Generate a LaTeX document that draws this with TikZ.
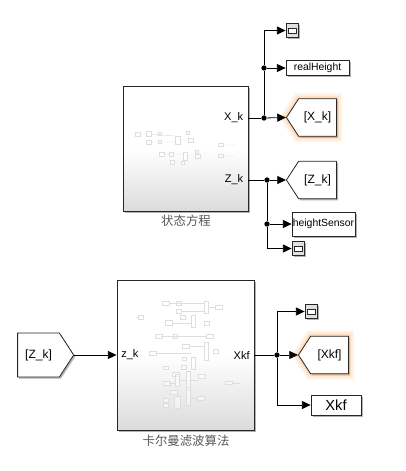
\documentclass[tikz,border=0pt]{standalone}
\usepackage{fontspec}
\setmainfont{Liberation Sans}
\newfontfamily\cjk{Noto Sans CJK SC}
\usetikzlibrary{arrows.meta,shadows,shapes.symbols}

\tikzset{
  wire/.style={-{Triangle[length=6.5pt,width=6pt]},line width=.6pt},
  bare/.style={line width=.6pt},
  junct/.style={circle,fill=black,inner sep=0pt,minimum size=4pt},
  softshadow/.style={drop shadow={shadow xshift=1.2pt,shadow yshift=-1.2pt,fill=black,opacity=.3}},
  subsys/.style={draw=black!85,line width=.7pt,top color=white,bottom color=black!14,middle color=white,softshadow,inner sep=0pt},
  outbox/.style={draw=black!85,fill=white,line width=.6pt,inner sep=0pt,softshadow},
  tagout/.style={signal,signal to=west,signal from=nowhere,signal pointer angle=114,draw=black!85,fill=white,line width=.6pt,inner sep=0pt,minimum width=37.5pt,minimum height=28pt,font=\fontsize{9}{9}\selectfont,softshadow},
  tagin/.style={tagout,signal to=east,minimum width=42pt,minimum height=33pt},
  glow/.style={preaction={draw=orange!60,line width=9pt,opacity=.1},preaction={draw=orange!60,line width=6.5pt,opacity=.14},preaction={draw=orange!60,line width=4pt,opacity=.18},preaction={draw=orange!60,line width=2pt,opacity=.2}},
  viewer/.style={outbox,fill=black!12,minimum width=9pt,minimum height=10pt},
  viewin/.style={draw=black!85,fill=white,line width=.4pt,inner sep=0pt,minimum width=6pt,minimum height=3.5pt},
  port/.style={font=\fontsize{8.3}{8.3}\selectfont,inner sep=0pt},
  caption/.style={font=\cjk\fontsize{9.3}{9.3}\selectfont,text=black!65,inner sep=0pt},
  ghost/.style={draw=black!13,line width=.35pt,fill=white,fill opacity=.5},
}

\begin{document}
\begin{tikzpicture}[x=0.75pt,y=-0.75pt]
\useasboundingbox[fill=white] (0,0) rectangle (406,471);

% first subsystem
\node[subsys,minimum width=93.75pt,minimum height=93.75pt] (plant) at (185.5,148.5) {};
\node[caption] (plantcap) at (186,221) {状态方程};
\node[port,anchor=east] (xk) at (243.5,118) {X\_k};
\node[port,anchor=east] (zk) at (243.5,180) {Z\_k};
\coordinate (xkout) at (plant.east |- xk);
\coordinate (zkout) at (plant.east |- zk);

\foreach \x/\y/\w/\h in {138/134/5/4,149/134/5/5,160/134/3/3,149/142/5/4,160/142/3/3,178/140/5/8,188/133/3/3,191/140/5/4,
  162/154/5/4,171/154/4/4,185/156/4/8,197/152/3/3,198/156/5/4,172/162/4/4,183/163/3/3,221/145/5/3,221/156/5/3}
  \draw[ghost] (\x-\w/2,\y-\h/2) rectangle (\x+\w/2,\y+\h/2);
\draw[ghost] (141,134)--(146,134) (152,134)--(175,136) (152,142)--(175,142) (181,140)--(188,140)
  (165,154)--(183,154) (187,156)--(195,156) (224,145)--(235,145) (224,156)--(235,156);

\node[viewer] (scopea) at (292,30.5) {};
\node[viewin] (scopeaw) at (scopea) {};
\node[outbox,minimum width=47.25pt,minimum height=11.25pt,font=\fontsize{7.8}{8}\selectfont] (realh) at (317.5,68) {realHeight};
\node[tagout,glow] (gotox) at (317.5,117.5) {[X\_k]};
\node[tagout] (gotoz) at (317.5,180) {[Z\_k]};
\node[outbox,minimum width=47.25pt,minimum height=18pt,font=\fontsize{7.8}{8}\selectfont] (hsensor) at (323.5,224) {heightSensor};
\node[viewer] (scopeb) at (298,248.5) {};
\node[viewin] (scopebw) at (scopeb) {};

\node[junct] (jxa) at (264,118) {};
\node[junct] (jxb) at (264,68) {};
\node[junct] (jza) at (267,180) {};
\node[junct] (jzb) at (267,224) {};

\draw[bare] (xkout)--(jxa);
\draw[wire] (jxa)--(gotox.west);
\draw[wire] (jxb)--(realh.west);
\draw[wire] (jxa)--(jxb)|-(scopea.west);
\draw[bare] (zkout)--(jza);
\draw[wire] (jza)--(gotoz.west);
\draw[wire] (jzb)--(hsensor.west);
\draw[wire] (jza)--(jzb)|-(scopeb.west);

% second subsystem
\node[subsys,minimum width=102.75pt,minimum height=112.5pt] (kalman) at (185.5,355) {};
\node[caption] (kalmancap) at (186,441) {卡尔曼滤波算法};
\node[port,anchor=west] (zin) at (121,355) {z\_k};
\node[port,anchor=east] (xkf) at (250,355) {Xkf};
\coordinate (zinpt) at (kalman.west |- zin);
\coordinate (xkfout) at (kalman.east |- xkf);

\foreach \x/\y/\w/\h in {166/303/7/4,179/303/5/4,179/311/5/4,206/307/4/12,219/307/7/4,141/317/5/4,
  169/323/7/5,183/317/5/4,193/321/4/12,207/323/5/4,159/336/7/4,175/336/4/4,210/336/7/4,
  186/346/7/4,206/351/4/18,216/351/5/4,153/353/7/4,184/359/4/3,193/363/4/12,184/367/5/4,
  166/368/5/3,167/383/7/4,176/374/7/4,177/380/4/12,188/380/4/18,202/376/7/4,
  174/392/7/4,166/400/5/4,166/405/5/4,177/402/6/12,188/396/4/18,201/398/7/4,229/383/7/3}
  \draw[ghost] (\x-\w/2,\y-\h/2) rectangle (\x+\w/2,\y+\h/2);
\draw[ghost] (170,303)--(204,303) (182,311)--(204,311) (209,307)--(216,307) (172,323)--(191,323)
  (161,336)--(207,336) (157,353)--(191,353) (189,346)--(204,346) (169,383)--(175,383) (180,380)--(186,380)
  (191,380)--(199,380) (136,317)--(139,317) (233,383)--(240,383) (191,398)--(198,398);

\node[tagin] (fromz) at (38.5,355) {[Z\_k]};
\node[viewer] (scopec) at (311,311.5) {};
\node[viewin] (scopecw) at (scopec) {};
\node[tagout,glow] (gotokf) at (329.5,355) {[Xkf]};
\node[outbox,minimum width=37.5pt,minimum height=15pt,font=\fontsize{11}{11}\selectfont] (xkfbox) at (336,405) {Xkf};
\node[junct] (jk) at (277,355) {};

\draw[wire] (fromz.east)--(zinpt);
\draw[bare] (xkfout)--(jk);
\draw[wire] (jk)--(gotokf.west);
\draw[wire] (jk)|-(scopec.west);
\draw[wire] (jk)|-(xkfbox.west);

\end{tikzpicture}
\end{document}
